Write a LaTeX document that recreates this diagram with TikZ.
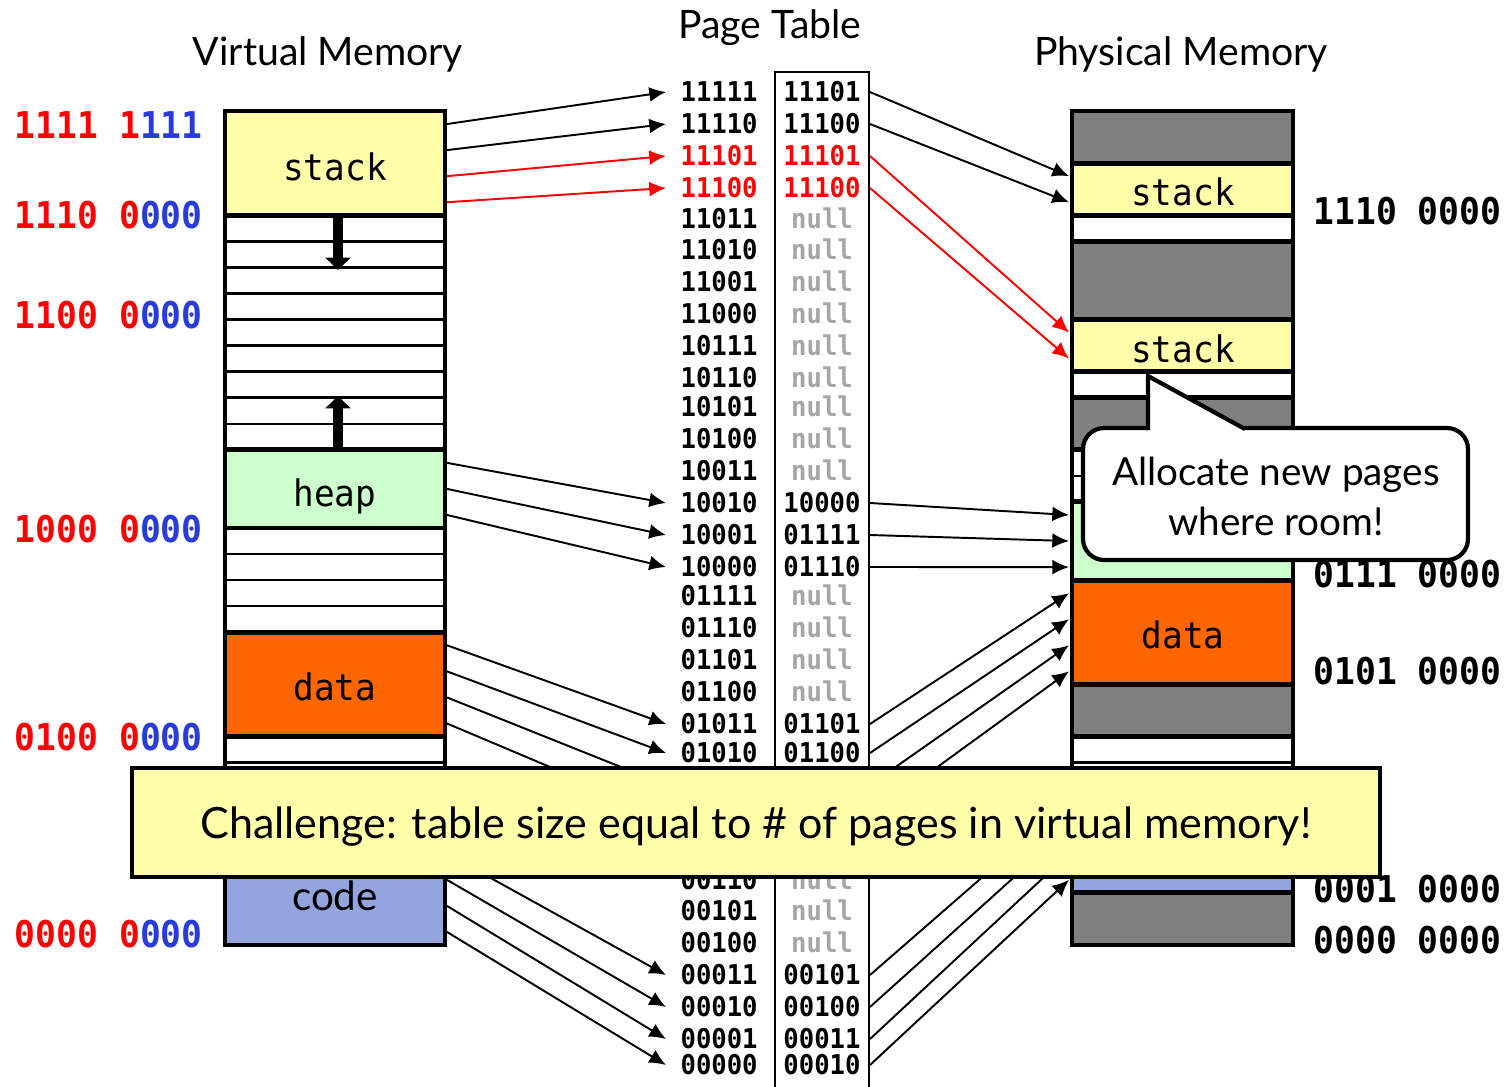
\documentclass[tikz,border=0pt]{standalone}
\usepackage{fontspec}
\setmainfont{Lato}
\newfontfamily\monof{DejaVu Sans Mono}[FakeStretch=0.94]
\usetikzlibrary{arrows.meta}
\definecolor{stackY}{RGB}{255,255,170}
\definecolor{heapG}{RGB}{204,255,204}
\definecolor{dataO}{RGB}{255,102,0}
\definecolor{codeB}{RGB}{148,165,222}
\definecolor{memG}{RGB}{128,128,128}
\definecolor{addrR}{RGB}{255,0,0}
\definecolor{addrB}{RGB}{40,60,220}
\definecolor{nullG}{RGB}{166,166,166}
\begin{document}
\begin{tikzpicture}[x=0.02cm,y=-0.02cm,
  region/.style={draw=black,line width=2.8pt},
  stripe/.style={draw=black,line width=1.4pt},
  conn/.style={line width=1.1pt,-{Latex[length=9.5pt,width=8.5pt]}},
  title/.style={font=\fontsize{22.3}{27}\selectfont,inner sep=0pt,anchor=base},
  seglabel/.style={font=\monof\fontsize{20.8}{24}\selectfont,inner sep=0pt,anchor=base},
  codelabel/.style={font=\fontsize{23}{27}\selectfont,inner sep=0pt,anchor=base},
  addr/.style={font=\monof\bfseries\fontsize{21}{25}\selectfont,inner sep=0pt},
  ptxt/.style={font=\monof\bfseries\fontsize{15.5}{18}\selectfont,inner sep=0pt,text height=11.3pt,text depth=0pt},
  growarrow/.style={line width=6pt,-{Triangle[length=7pt,width=14pt]}},
  bigtxt/.style={font=\fontsize{24.5}{28}\selectfont,inner sep=0pt,anchor=base},
]
\useasboundingbox (0,0) rectangle (1512,1086);
\def\ph{26.0625}
% ---------- titles
\node[title] (tvm) at (328,65) {Virtual Memory};
\node[title] (tpt) at (770,38) {Page Table};
\node[title] (tpm) at (1181,65) {Physical Memory};
% ---------- virtual memory
\fill[white] (225,111) rectangle (445,945);
\foreach \k in {1,...,31} \draw[stripe] (225,{945-\k*\ph}) -- (445,{945-\k*\ph});
\draw[region,fill=stackY] (225,{945-32*\ph}) rectangle (445,{945-28*\ph});
\draw[region,fill=heapG] (225,{945-19*\ph}) rectangle (445,{945-16*\ph});
\draw[region,fill=dataO] (225,{945-12*\ph}) rectangle (445,{945-8*\ph});
\draw[region,fill=codeB] (225,{945-4*\ph}) rectangle (445,945);
\draw[region] (225,111) rectangle (445,945);
\node[seglabel] (vstack) at (335,180) {stack};
\node[seglabel] (vheap) at (335,506) {heap};
\node[seglabel] (vdata) at (335,700) {data};
\node[codelabel] (vcode) at (335,910) {code};
\coordinate (sgA) at (338,{945-28*\ph});
\coordinate (sgB) at (338,270);
\coordinate (hgA) at (338,{945-19*\ph});
\coordinate (hgB) at (338,396);
\draw[growarrow] (sgA) -- (sgB);
\draw[growarrow] (hgA) -- (hgB);
% ---------- virtual addresses
\begin{scope}[every node/.style={addr,anchor=base east}]
\node (la1) at (203,138) {\textcolor{addrR}{1111 1}\textcolor{addrB}{111}};
\node (la2) at (203,228) {\textcolor{addrR}{1110 0}\textcolor{addrB}{000}};
\node (la3) at (203,328) {\textcolor{addrR}{1100 0}\textcolor{addrB}{000}};
\node (la4) at (203,542) {\textcolor{addrR}{1000 0}\textcolor{addrB}{000}};
\node (la5) at (203,750) {\textcolor{addrR}{0100 0}\textcolor{addrB}{000}};
\node (la6) at (203,947) {\textcolor{addrR}{0000 0}\textcolor{addrB}{000}};
\end{scope}
% ---------- page table
\draw[line width=1.4pt] (775,1095) -- (775,72) -- (869,72) -- (869,1095);
\foreach \i/\yy/\vp/\pp/\cc in {
 0/92/11111/11101/black, 1/124/11110/11100/black, 2/156/11101/11101/red, 3/188/11100/11100/red,
 4/219/11011/null/nullG, 5/250/11010/null/nullG, 6/282/11001/null/nullG, 7/314/11000/null/nullG,
 8/346/10111/null/nullG, 9/378/10110/null/nullG, 10/407/10101/null/nullG, 11/439/10100/null/nullG,
 12/471/10011/null/nullG, 13/503/10010/10000/black, 14/535/10001/01111/black, 15/567/10000/01110/black,
 16/596/01111/null/nullG, 17/628/01110/null/nullG, 18/660/01101/null/nullG, 19/692/01100/null/nullG,
 20/724/01011/01101/black, 21/753/01010/01100/black,
 25/880/00110/null/nullG, 26/911/00101/null/nullG, 27/943/00100/null/nullG,
 28/975/00011/00101/black, 29/1007/00010/00100/black, 30/1039/00001/00011/black, 31/1065/00000/00010/black}{
  \ifnum\i<4 \ifnum\i>1 \def\vc{red}\else\def\vc{black}\fi\else\def\vc{black}\fi
  \node[ptxt,anchor=east,text=\vc] (vpn\i) at (758,\yy) {\vp};
  \node[ptxt,text=\cc] (ppn\i) at (822,\yy) {\pp};
  \coordinate (vin\i) at (666,\yy);
  \coordinate (pout\i) at (870,\yy);
}
% rows hidden behind the challenge box (connector ends only)
\foreach \i/\yy in {22/785,23/816,24/848}{
  \coordinate (vin\i) at (666,\yy);
  \coordinate (pout\i) at (870,\yy);
}
% ---------- page coordinates
\foreach \p in {0,...,31}{
  \coordinate (v\p) at (447,{945-(\p+0.5)*\ph});
  \coordinate (m\p) at (1069,{945-(\p+0.5)*\ph});
}
% ---------- physical memory
\fill[white] (1072,111) rectangle (1293,945);
\foreach \lo/\hi/\col in {30/32/memG, 28/30/stackY, 27/28/white, 24/27/memG, 22/24/stackY,
  21/22/white, 19/21/memG, 17/19/white, 14/17/heapG, 10/14/dataO, 8/10/memG, 6/8/white,
  2/6/codeB, 0/2/memG}
  \draw[region,fill=\col] (1072,{945-\hi*\ph}) rectangle (1293,{945-\lo*\ph});
\draw[stripe] (1072,{945-18*\ph}) -- (1293,{945-18*\ph});
\draw[stripe] (1072,{945-7*\ph}) -- (1293,{945-7*\ph});
\draw[region] (1072,111) rectangle (1293,945);
\node[seglabel] (pstack1) at (1183,205) {stack};
\node[seglabel] (pstack2) at (1183,362) {stack};
\node[seglabel] (pdata) at (1183,648) {data};
% physical addresses
\begin{scope}[every node/.style={addr,anchor=base west}]
\node (ra1) at (1313,224) {1110 0000};
\node (ra2) at (1313,587) {0111 0000};
\node (ra3) at (1313,684) {0101 0000};
\node (ra4) at (1313,902) {0001 0000};
\node (ra5) at (1313,953) {0000 0000};
\end{scope}
% ---------- connectors
\foreach \p/\i in {31/0,30/1,18/13,17/14,16/15,11/20,10/21,9/22,8/23,3/28,2/29,1/30,0/31}
  \draw[conn] (v\p) -- (vin\i);
\foreach \p/\i in {29/2,28/3}
  \draw[conn,red] (v\p) -- (vin\i);
\foreach \i/\p in {0/29,1/28,13/16,14/15,15/14,20/13,21/12,22/11,23/10,28/5,29/4,30/3,31/2}
  \draw[conn] (pout\i) -- (m\p);
\foreach \i/\p in {2/23,3/22}
  \draw[conn,red] (pout\i) -- (m\p);
% ---------- callout
\draw[line width=2.4pt,fill=white,rounded corners=12pt] (1083,428) rectangle (1468,560);
\fill[white] (1148,376) -- (1243,428) -- (1243,432) -- (1148,432) -- cycle;
\draw[line width=2.4pt,line join=miter] (1148,430) -- (1148,376) -- (1245,429);
\node[bigtxt,font=\fontsize{22}{26}\selectfont] (call1) at (1276,485) {Allocate new pages};
\node[bigtxt,font=\fontsize{22}{26}\selectfont] (call2) at (1276,535) {where room!};
% ---------- challenge box
\draw[line width=2.4pt,fill=stackY] (132,768) rectangle (1380,877);
\node[bigtxt] (chal) at (756,838) {Challenge: table size equal to \# of pages in virtual memory!};
\end{tikzpicture}
\end{document}
